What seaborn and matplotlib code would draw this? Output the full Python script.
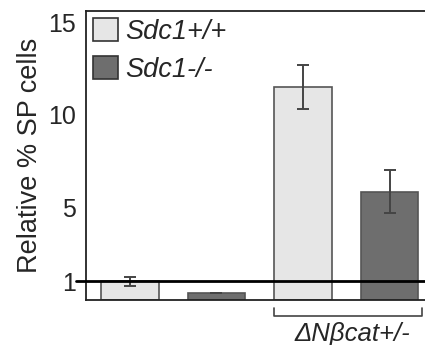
import matplotlib
matplotlib.use("Agg")
import matplotlib.pyplot as plt
import matplotlib.patches as mpatches
import matplotlib.transforms as mtransforms
import seaborn as sns
import pandas as pd

# ---- data ----
bars = ["c1", "c2", "c3", "c4"]
genotype = ["Sdc1+/+", "Sdc1-/-", "Sdc1+/+", "Sdc1-/-"]
values = [1.0, 0.4, 11.5, 5.85]
errors = [0.25, 0.0, 1.2, 1.15]
yticks = [1, 5, 10, 15]
group_label = "ΔNβcat+/-"

sns.set_style("white")
plt.rcParams['font.family'] = ['Liberation Sans', 'DejaVu Sans']

colors = {"Sdc1+/+": "#e6e6e6", "Sdc1-/-": "#6e6e6e"}

df = pd.DataFrame({"bar": bars, "genotype": genotype, "value": values})

fig = plt.figure(figsize=(4.25, 3.45), dpi=100)
ax = fig.add_axes([0.202, 0.1304, 0.80, 0.8376])

sns.barplot(data=df, x="bar", y="value", hue="genotype", palette=colors,
            dodge=False, width=0.67, edgecolor="#555555", linewidth=1.2,
            legend=False, ax=ax)

ax.errorbar(range(len(bars)), values, yerr=errors, fmt="none",
            ecolor="#444444", elinewidth=1.4, capsize=4, capthick=1.4, zorder=5)

ax.axhline(1, color="black", lw=2.0, zorder=6, xmin=-0.03, clip_on=False)

ax.set_ylim(0, 15.6)
ax.set_xlim(-0.51, 3.42)
ax.set_yticks(yticks)
ax.set_yticklabels([str(t) for t in yticks], fontsize=18)
ax.set_xticks(range(len(bars)))
ax.set_xticklabels([])
ax.tick_params(axis="y", direction="out", length=5, width=1, color="#333333", pad=2)
ax.tick_params(axis="x", direction="out", length=3, width=1, color="#888888")
ax.set_xlabel("")
ax.set_ylabel("Relative % SP cells", fontsize=19.5, labelpad=4)

for s in ["left", "bottom", "top"]:
    ax.spines[s].set_visible(True)
    ax.spines[s].set_color("#222222")
    ax.spines[s].set_linewidth(1.3)
ax.spines["right"].set_visible(False)

handles = [mpatches.Patch(facecolor=colors[g], edgecolor="#333333", linewidth=1.2, label=g)
           for g in ["Sdc1+/+", "Sdc1-/-"]]
leg = ax.legend(handles=handles, loc="upper left", frameon=False,
                prop={"style": "italic", "size": 19.5}, handlelength=0.9,
                handleheight=0.9, handletextpad=0.3, labelspacing=0.42,
                borderaxespad=0.15, borderpad=0.12)

# bracket under the second group
tr = mtransforms.blended_transform_factory(ax.transData, ax.transAxes)
ax.plot([1.67, 1.67, 3.38, 3.38], [-0.026, -0.056, -0.056, -0.026], color="#444444",
        lw=1.2, transform=tr, clip_on=False)
ax.text(2.57, -0.118, group_label, transform=tr, ha="center", va="center",
        fontsize=18.5, style="italic")

fig.savefig("out.png", dpi=100)
